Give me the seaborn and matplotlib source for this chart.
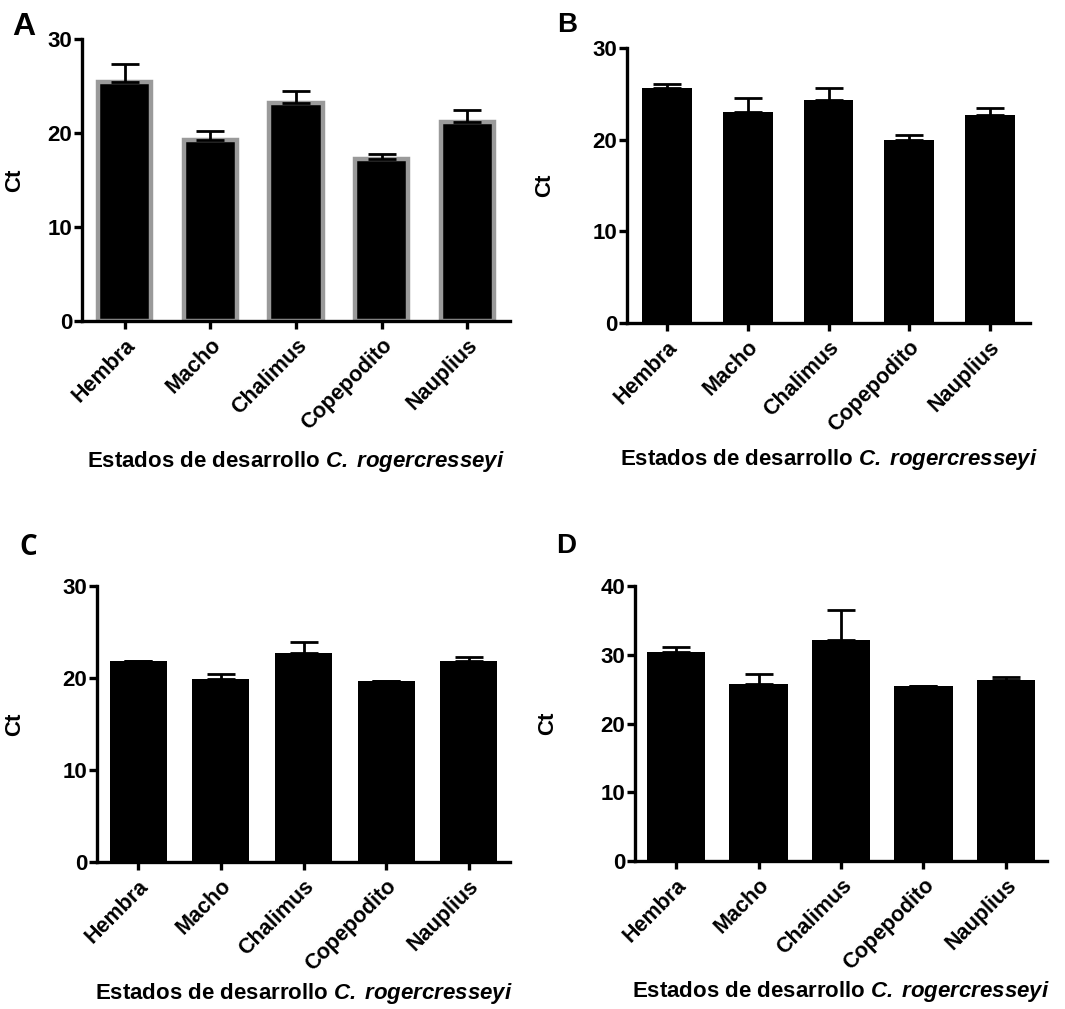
import numpy as np
import pandas as pd
import matplotlib
matplotlib.use("Agg")
import matplotlib.pyplot as plt
import seaborn as sns

# Developmental stages of C. rogercresseyi
stages = ["Hembra", "Macho", "Chalimus", "Copepodito", "Nauplius"]

# Mean Ct and upper SD for each panel
ct_a = [25.4, 19.3, 23.2, 17.2, 21.2]
sd_a = [1.9, 0.95, 1.3, 0.6, 1.2]

ct_b = [25.6, 23.0, 24.3, 20.0, 22.7]
sd_b = [0.5, 1.5, 1.35, 0.5, 0.7]

ct_c = [21.9, 19.9, 22.7, 19.7, 21.8]
sd_c = [0.0, 0.5, 1.25, 0.0, 0.45]

ct_d = [30.4, 25.8, 32.2, 25.4, 26.3]
sd_d = [0.75, 1.4, 4.3, 0.0, 0.5]

y_ticks_abc = [0, 10, 20, 30]
y_ticks_d = [0, 10, 20, 30, 40]

sns.set_theme(style="ticks")
plt.rcParams["font.family"] = ["Liberation Sans", "DejaVu Sans"]
plt.rcParams["font.weight"] = "bold"
plt.rcParams["text.color"] = "black"
plt.rcParams["axes.labelcolor"] = "black"
plt.rcParams["xtick.color"] = "black"
plt.rcParams["ytick.color"] = "black"
plt.rcParams["mathtext.fontset"] = "custom"
plt.rcParams["mathtext.bfit"] = "Liberation Sans:bold:italic"
plt.rcParams["mathtext.bf"] = "Liberation Sans:bold"
plt.rcParams["mathtext.rm"] = "Liberation Sans:bold"

W, H = 1065, 1009
fig = plt.figure(figsize=(W / 100, H / 100), dpi=100)


def px_axes(left, top, right, bottom):
    return fig.add_axes([left / W, 1 - bottom / H, (right - left) / W, (bottom - top) / H])


panels = [
    # values, errors, ticks, box (left, top, right, bottom), bar width, edge,
    # x of the "Ct" label, drop of the x label, panel letter (text, x, baseline, family, size)
    (ct_a, sd_a, y_ticks_abc, (82, 39, 510, 321), 0.62, "#9a9a9a", 25, 140,
     ("A", 12, 35, "Liberation Sans", 23)),
    (ct_b, sd_b, y_ticks_abc, (627, 48, 1030, 323), 0.62, None, 555, 136,
     ("B", 557, 32, "Liberation Sans", 20)),
    (ct_c, sd_c, y_ticks_abc, (97, 586, 510, 862), 0.69, None, 25, 131,
     ("C", 19, 555, "Open Sans", 20)),
    (ct_d, sd_d, y_ticks_d, (635, 586, 1047, 861), 0.71, None, 558, 131,
     ("D", 556, 553, "Liberation Sans", 20)),
]

xlabel_text = r"Estados de desarrollo $\mathbfit{C.\,rogercresseyi}$"

for vals, errs, yt, box, bw, edge, ylab_x, xlab_drop, letter in panels:
    left, top, right, bottom = box
    ax = px_axes(left, top, right, bottom)
    df = pd.DataFrame({"stage": stages, "ct": vals})
    sns.barplot(
        data=df, x="stage", y="ct", ax=ax, color="black", width=bw,
        errorbar=None, saturation=1,
        edgecolor=edge if edge else "black", linewidth=3.2 if edge else 0,
    )
    # upper error bars at bar centres
    xs = np.arange(len(stages))
    ax.errorbar(
        xs, vals, yerr=[np.zeros(len(errs)), errs], fmt="none",
        ecolor="black", elinewidth=2.0, capsize=10, capthick=2.0, zorder=1,
    )
    ax.set_xlim(-0.5, len(stages) - 0.5)
    ax.set_ylim(0, yt[-1])
    ax.set_yticks(yt)
    ax.set_yticklabels([str(v) for v in yt], fontsize=16, fontweight="bold")
    ax.set_xticks(xs)
    ax.set_xticklabels(stages, rotation=45, ha="right", rotation_mode="anchor",
                       fontsize=15.5, fontweight="bold")
    sns.despine(ax=ax)
    for sp in ["left", "bottom"]:
        ax.spines[sp].set_linewidth(2.4)
        ax.spines[sp].set_color("black")
    ax.tick_params(axis="both", direction="out", length=6, width=2.4,
                   color="black", labelcolor="black")
    ax.tick_params(axis="y", pad=1)
    ax.tick_params(axis="x", pad=4)
    ax.set_ylabel("Ct", fontsize=16, fontweight="bold", color="black")
    ax.yaxis.set_label_coords((ylab_x - left) / (right - left), 0.5)
    ax.set_xlabel(xlabel_text, fontsize=16, fontweight="bold", color="black")
    ax.xaxis.set_label_coords(0.5, -xlab_drop / (bottom - top))
    ax.xaxis.label.set_va("center")
    ax.set_facecolor("white")

    txt, lx, ly, fam, fs = letter
    fig.text(lx / W, 1 - ly / H, txt, fontsize=fs, fontweight="bold", color="black",
             family=[fam, "DejaVu Sans"], ha="left", va="baseline")

fig.savefig("out.png", dpi=100, facecolor="white")
